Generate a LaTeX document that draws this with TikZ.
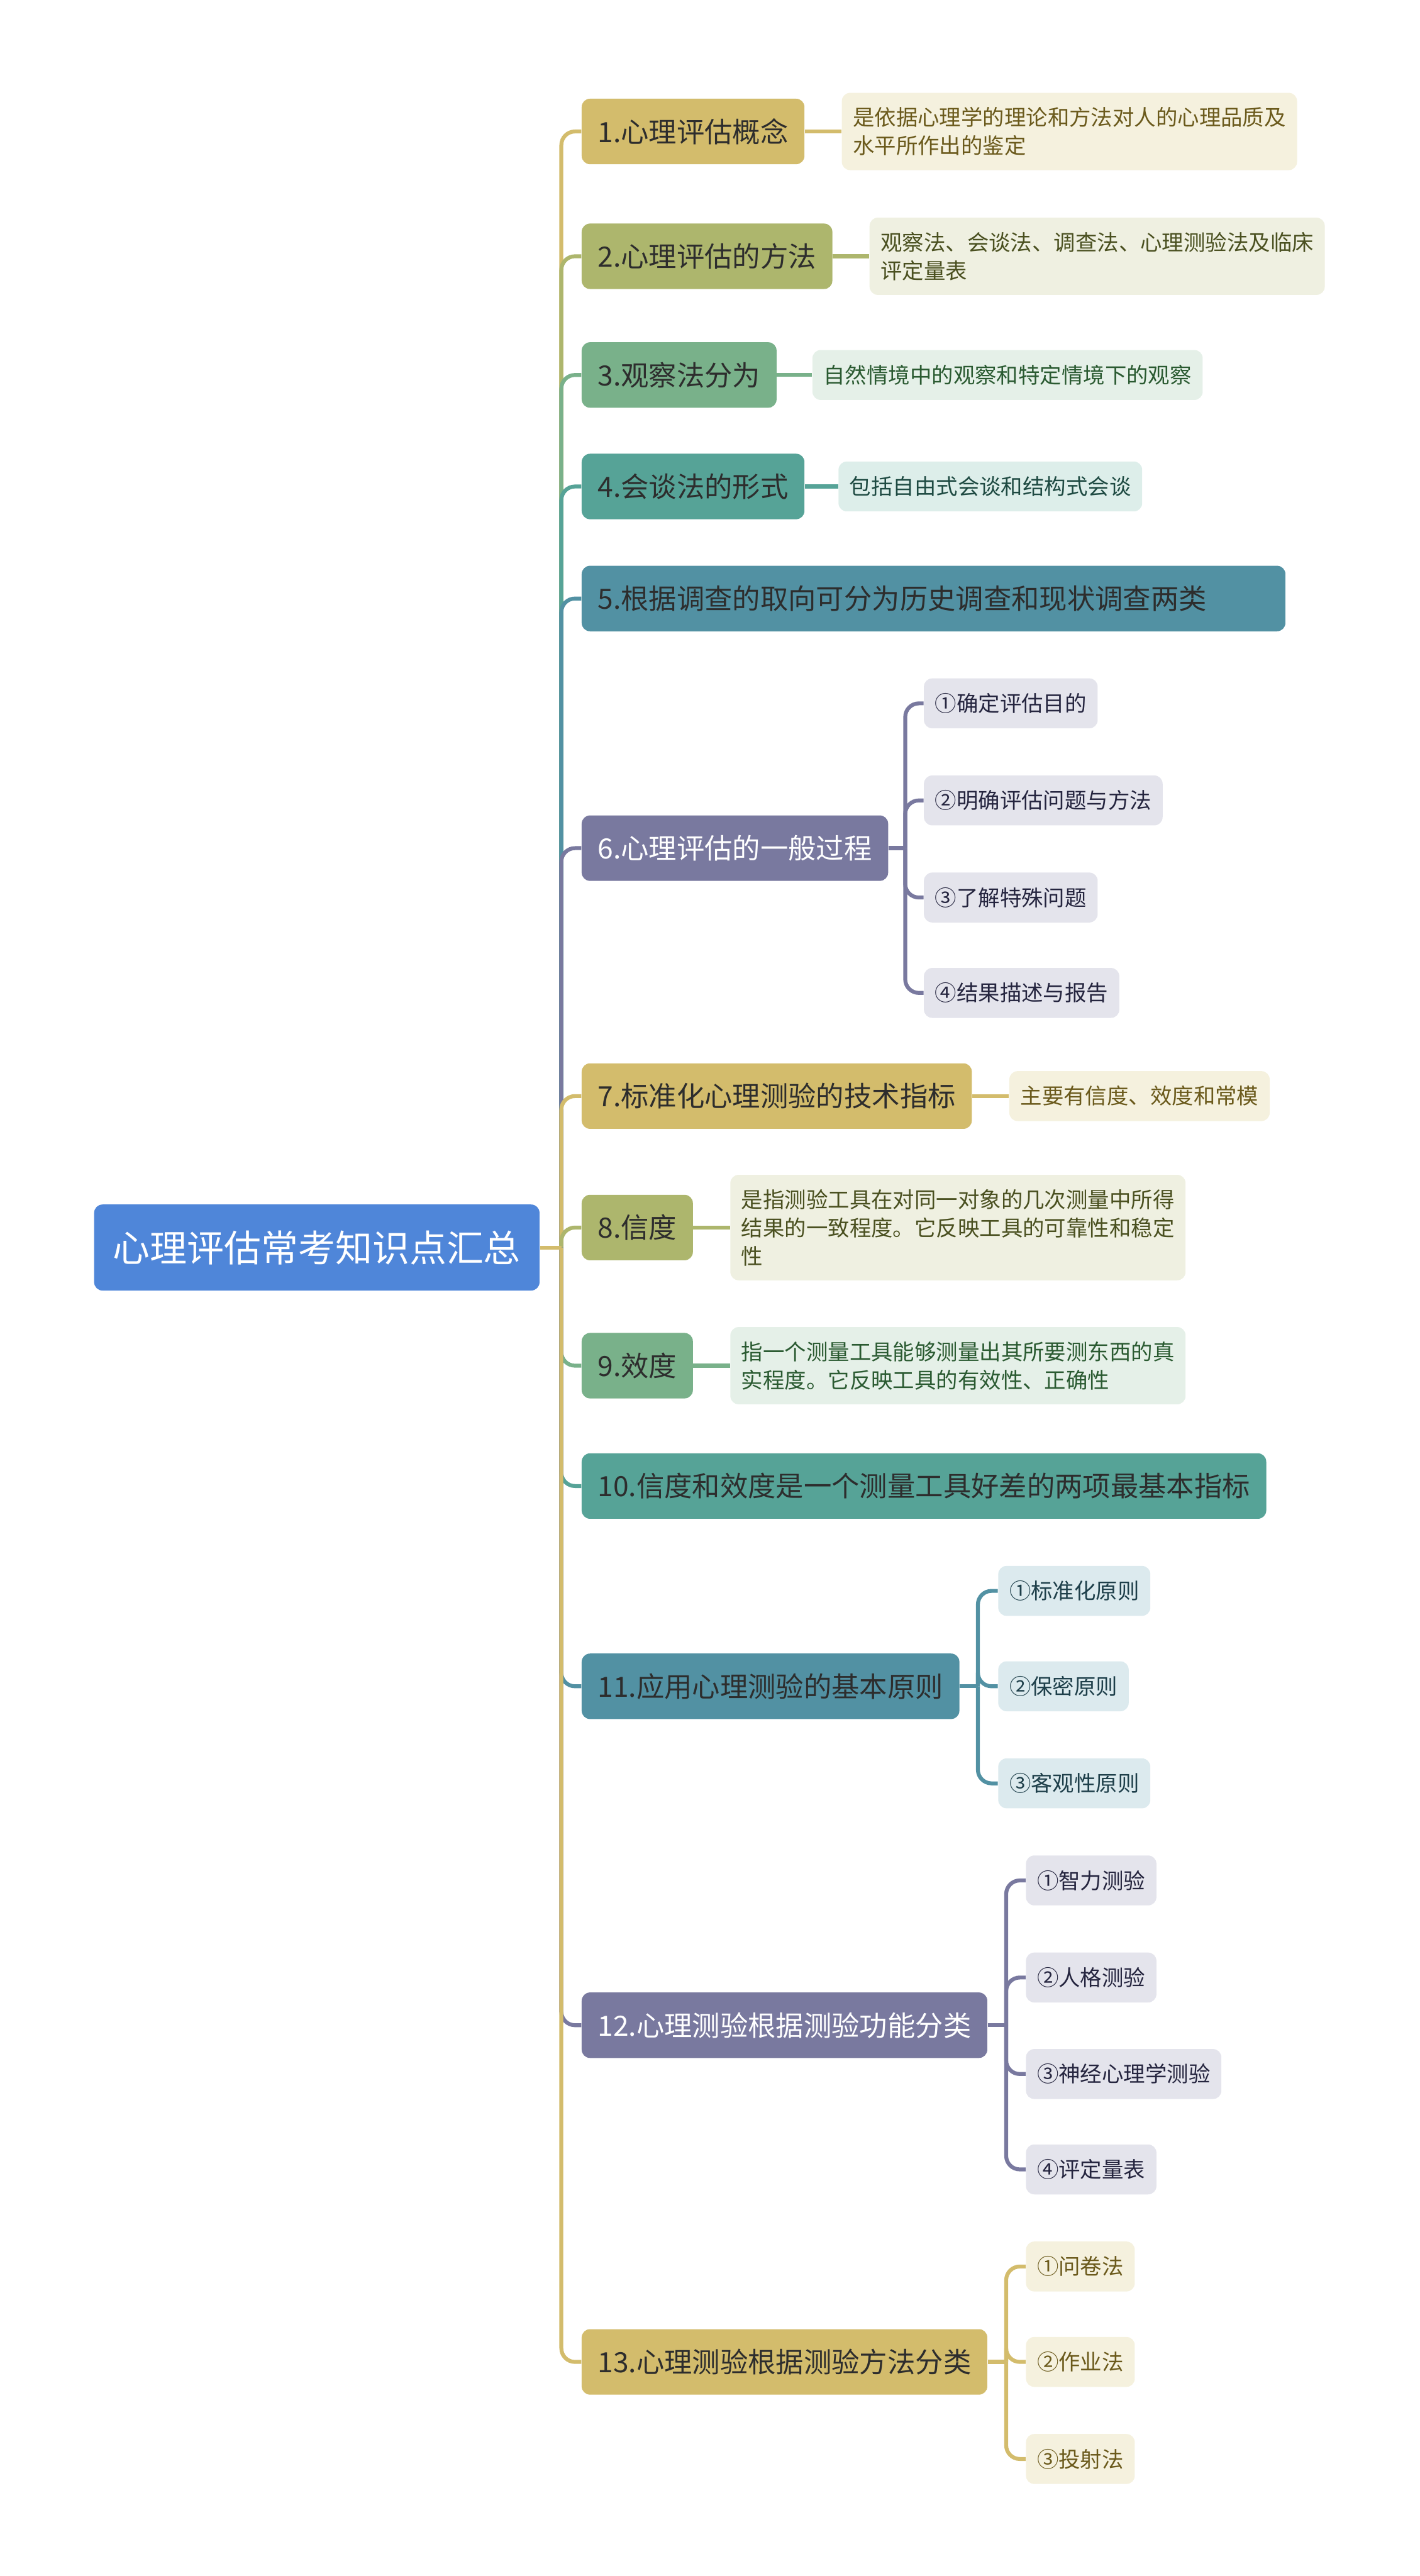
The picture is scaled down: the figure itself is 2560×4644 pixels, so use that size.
\documentclass[tikz,border=0pt]{standalone}
\usepackage{fontspec}
\setmainfont{Noto Sans CJK SC}
\usetikzlibrary{positioning}

\definecolor{rootblue}{HTML}{4F86D9}
\definecolor{ink}{HTML}{2D2D2D}
% branch colours
\definecolor{cA}{HTML}{D3BC6C}
\definecolor{cB}{HTML}{ADB66D}
\definecolor{cC}{HTML}{79B18A}
\definecolor{cD}{HTML}{56A397}
\definecolor{cE}{HTML}{5291A3}
\definecolor{cF}{HTML}{79799F}
% leaf fills
\definecolor{lA}{HTML}{F5F1DE}
\definecolor{lB}{HTML}{EFF0E1}
\definecolor{lC}{HTML}{E5F0E8}
\definecolor{lD}{HTML}{DDEEEA}
\definecolor{lE}{HTML}{DCEAEE}
\definecolor{lF}{HTML}{E4E4EC}
% leaf texts
\definecolor{tA}{HTML}{6B5A1C}
\definecolor{tB}{HTML}{4A5020}
\definecolor{tC}{HTML}{2A5A31}
\definecolor{tD}{HTML}{1E4A42}
\definecolor{tE}{HTML}{1E3F4A}
\definecolor{tF}{HTML}{25253F}

\tikzset{
  rootbox/.style={anchor=west,fill=rootblue,text=white,rounded corners=0.15cm,
    inner xsep=0.34cm,minimum height=1.55cm,font=\fontsize{19pt}{23pt}\selectfont},
  lv1/.style={anchor=west,text=ink,rounded corners=0.15cm,inner xsep=0.29cm,
    minimum height=1.18cm,font=\fontsize{14.3pt}{17pt}\selectfont},
  leaf/.style={anchor=west,rounded corners=0.15cm,inner xsep=0.2cm,inner ysep=0.26cm,
    minimum height=0.9cm,align=left,font=\fontsize{11.1pt}{14.5pt}\selectfont},
  link/.style={line width=2pt},
}

\begin{document}
\begin{tikzpicture}[x=0.01cm,y=-0.01cm]
\useasboundingbox (0,0) rectangle (2560,4644);

\node[rootbox] (R) at (169,2249) {心理评估常考知识点汇总};
\coordinate (T) at (1012,2249);

% main branches
\node[lv1,fill=cA] (n1) at (1048,237) {1.心理评估概念};
\node[lv1,fill=cB] (n2) at (1048,462) {2.心理评估的方法};
\node[lv1,fill=cC] (n3) at (1048,676) {3.观察法分为};
\node[lv1,fill=cD] (n4) at (1048,877) {4.会谈法的形式};
\node[lv1,fill=cE,text width=12.1cm,align=left] (n5) at (1048,1079) {5.根据调查的取向可分为历史调查和现状调查两类};
\node[lv1,fill=cF,text=white] (n6) at (1048,1529) {6.心理评估的一般过程};
\node[lv1,fill=cA] (n7) at (1048,1976) {7.标准化心理测验的技术指标};
\node[lv1,fill=cB] (n8) at (1048,2213) {8.信度};
\node[lv1,fill=cC] (n9) at (1048,2462) {9.效度};
\node[lv1,fill=cD] (n10) at (1048,2679) {10.信度和效度是一个测量工具好差的两项最基本指标};
\node[lv1,fill=cE] (n11) at (1048,3040) {11.应用心理测验的基本原则};
\node[lv1,fill=cF,text=white] (n12) at (1048,3651) {12.心理测验根据测验功能分类};
\node[lv1,fill=cA] (n13) at (1048,4258) {13.心理测验根据测验方法分类};

\foreach \i/\c in {1/cA,2/cB,3/cC,4/cD,5/cE,6/cF,7/cA,8/cB,9/cC,10/cD,11/cE,12/cF,13/cA}
  {\draw[link,draw=\c,rounded corners=7pt] (T) |- (n\i.west);}
\draw[link,draw=cA] (R.east) -- (T);

% leaves with one child
\node[leaf,fill=lA,text=tA] (s1) at (1517,237) {是依据心理学的理论和方法对人的心理品质及\\水平所作出的鉴定};
\node[leaf,fill=lB,text=tB] (s2) at (1567,462) {观察法、会谈法、调查法、心理测验法及临床\\评定量表};
\node[leaf,fill=lC,text=tC] (s3) at (1464,676) {自然情境中的观察和特定情境下的观察};
\node[leaf,fill=lD,text=tD] (s4) at (1511,877) {包括自由式会谈和结构式会谈};
\node[leaf,fill=lA,text=tA] (s7) at (1819,1976) {主要有信度、效度和常模};
\node[leaf,fill=lB,text=tB] (s8) at (1316,2213) {是指测验工具在对同一对象的几次测量中所得\\结果的一致程度。它反映工具的可靠性和稳定\\性};
\node[leaf,fill=lC,text=tC] (s9) at (1316,2462) {指一个测量工具能够测量出其所要测东西的真\\实程度。它反映工具的有效性、正确性};

\foreach \i/\c in {1/cA,2/cB,3/cC,4/cD,7/cA,8/cB,9/cC}
  {\draw[link,draw=\c] (n\i.east) -- (s\i.west);}

% 6
\node[leaf,fill=lF,text=tF] (s6a) at (1665,1268) {①确定评估目的};
\node[leaf,fill=lF,text=tF] (s6b) at (1665,1443) {②明确评估问题与方法};
\node[leaf,fill=lF,text=tF] (s6c) at (1665,1618) {③了解特殊问题};
\node[leaf,fill=lF,text=tF] (s6d) at (1665,1790) {④结果描述与报告};
\coordinate (j6) at (1632,1529);
\draw[link,draw=cF] (n6.east) -- (j6);
\foreach \k in {a,b,c,d}{\draw[link,draw=cF,rounded corners=7pt] (j6) |- (s6\k.west);}

% 11
\node[leaf,fill=lE,text=tE] (s11a) at (1799,2868) {①标准化原则};
\node[leaf,fill=lE,text=tE] (s11b) at (1799,3040) {②保密原则};
\node[leaf,fill=lE,text=tE] (s11c) at (1799,3215) {③客观性原则};
\coordinate (j11) at (1763,3040);
\draw[link,draw=cE] (n11.east) -- (j11);
\foreach \k in {a,b,c}{\draw[link,draw=cE,rounded corners=7pt] (j11) |- (s11\k.west);}

% 12
\node[leaf,fill=lF,text=tF] (s12a) at (1849,3390) {①智力测验};
\node[leaf,fill=lF,text=tF] (s12b) at (1849,3565) {②人格测验};
\node[leaf,fill=lF,text=tF] (s12c) at (1849,3739) {③神经心理学测验};
\node[leaf,fill=lF,text=tF] (s12d) at (1849,3911) {④评定量表};
\coordinate (j12) at (1814,3651);
\draw[link,draw=cF] (n12.east) -- (j12);
\foreach \k in {a,b,c,d}{\draw[link,draw=cF,rounded corners=7pt] (j12) |- (s12\k.west);}

% 13
\node[leaf,fill=lA,text=tA] (s13a) at (1849,4086) {①问卷法};
\node[leaf,fill=lA,text=tA] (s13b) at (1849,4258) {②作业法};
\node[leaf,fill=lA,text=tA] (s13c) at (1849,4433) {③投射法};
\coordinate (j13) at (1814,4258);
\draw[link,draw=cA] (n13.east) -- (j13);
\foreach \k in {a,b,c}{\draw[link,draw=cA,rounded corners=7pt] (j13) |- (s13\k.west);}
\end{tikzpicture}
\end{document}
